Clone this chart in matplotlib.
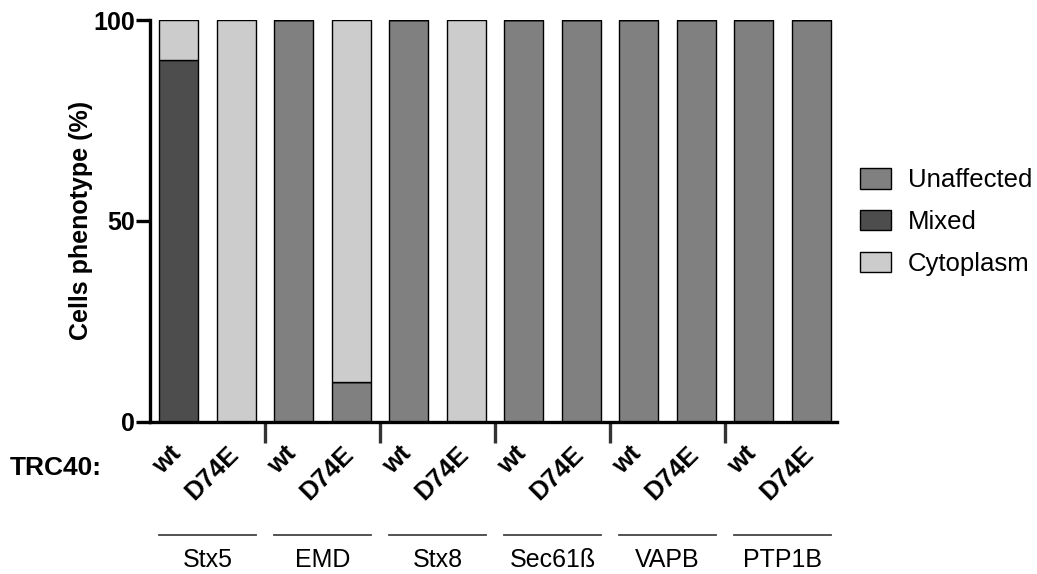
import matplotlib
matplotlib.use("Agg")
import matplotlib.pyplot as plt
import matplotlib.transforms as mtransforms
from matplotlib.patches import Patch
import numpy as np

plt.rcParams['font.family'] = ['Liberation Sans', 'DejaVu Sans']

groups = ["Stx5", "EMD", "Stx8", "Sec61ß", "VAPB", "PTP1B"]
variants = ["wt", "D74E"]
# values per bar (12 bars: wt, D74E for each group)
unaffected = [0, 0, 100, 10, 100, 0, 100, 100, 100, 100, 100, 100]
mixed      = [90, 0, 0, 0, 0, 0, 0, 0, 0, 0, 0, 0]
cytoplasm  = [10, 100, 0, 90, 0, 100, 0, 0, 0, 0, 0, 0]
series_names = ["Unaffected", "Mixed", "Cytoplasm"]
colors = {"Unaffected": "#808080", "Mixed": "#4d4d4d", "Cytoplasm": "#cccccc"}

W, H = 1037, 574
fig = plt.figure(figsize=(W / 100, H / 100), dpi=100)
ax = fig.add_axes([150 / W, 1 - 421.7 / H, (837 - 150) / W, (421.7 - 20) / H])

x = np.arange(len(unaffected))
bw = 0.68
unaff = np.array(unaffected)
mix = np.array(mixed)
cyt = np.array(cytoplasm)
ax.bar(x, unaff, bw, color=colors["Unaffected"], edgecolor="black", linewidth=1.0)
ax.bar(x, mix, bw, bottom=unaff, color=colors["Mixed"], edgecolor="black", linewidth=1.0)
ax.bar(x, cyt, bw, bottom=unaff + mix, color=colors["Cytoplasm"], edgecolor="black", linewidth=1.0)

ax.set_xlim(-0.5, 11.45)
ax.set_ylim(0, 100)
for s in ["top", "right"]:
    ax.spines[s].set_visible(False)
for s in ["left", "bottom"]:
    ax.spines[s].set_linewidth(2.4)

ax.set_yticks([0, 50, 100])
ax.set_yticklabels(["0", "50", "100"], fontsize=18, fontweight="bold")
ax.tick_params(axis="y", length=10, width=2.4, pad=1)

sep = np.arange(1.5, 11, 2.0)
ax.set_xticks(sep)
ax.set_xticklabels([])
ax.tick_params(axis="x", length=15, width=2.4, color="#333333")

ax.set_ylabel("Cells phenotype (%)", fontsize=18, fontweight="bold", labelpad=0)

trans = mtransforms.blended_transform_factory(ax.transData, ax.transAxes)
for i in range(len(x)):
    lab = variants[i % 2]
    ax.text(x[i] + 0.12, -0.05, lab, transform=trans, rotation=45,
            ha="right", va="top", fontsize=18.5, fontweight="bold", clip_on=False)

for g, name in enumerate(groups):
    x0 = 2 * g - bw / 2
    x1 = 2 * g + 1 + bw / 2
    ax.plot([x0, x1], [-0.282, -0.282], transform=trans, color="#444444",
            linewidth=1.3, clip_on=False)
    ax.text(2 * g + 0.5, -0.345, name, transform=trans, ha="center", va="center",
            fontsize=18)

fig.text(10 / W, 1 - 468 / H, "TRC40:", ha="left", va="center",
         fontsize=19, fontweight="bold")

handles = [Patch(facecolor=colors[n], edgecolor="black", linewidth=1.0) for n in series_names]
fig.legend(handles, series_names, loc="center left", bbox_to_anchor=(837 / W, 1 - 222 / H),
           frameon=False, fontsize=18.5, handlelength=1.2, handleheight=0.85,
           labelspacing=0.68, handletextpad=0.65)

fig.savefig("out.png", dpi=100)
